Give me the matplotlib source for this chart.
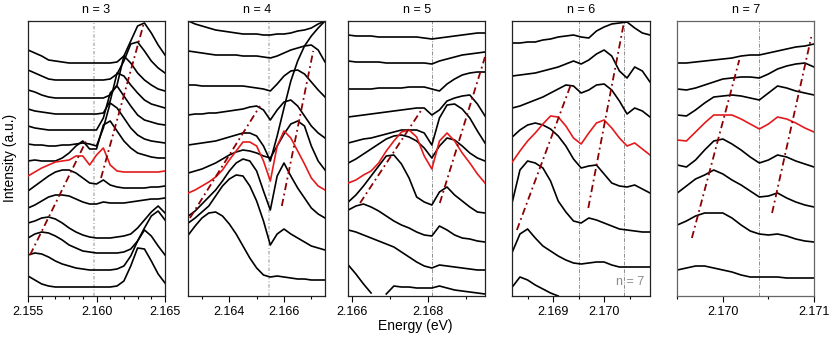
import numpy as np
import matplotlib
matplotlib.use('Agg')
import matplotlib.pyplot as plt
from matplotlib.ticker import MultipleLocator, FormatStrFormatter

plt.rcParams['font.family'] = ['Liberation Sans', 'DejaVu Sans']

nan = np.nan

# ---- n = 3 ----
energy_n3 = np.linspace(2.155, 2.165, 21)
traces_n3 = [
    [246, 243, 240, 236, 235, 234, 233, 233, 233, 233, 233, 233, 233, 234, 240, 255, 270, 273, 263, 251, 241],
    [226, 223, 220, 217, 216, 216, 216, 216, 216, 216, 216, 216, 217, 222, 235, 252, 254, 245, 235, 228, 223],
    [206, 204, 201, 199, 198, 198, 198, 198, 198, 198, 198, 198, 201, 211, 240, 233, 223, 216, 211, 207, 205],
    [187, 185, 184, 183, 182, 182, 182, 182, 182, 182, 182, 183, 195, 223, 220, 211, 203, 196, 192, 190, 188],
    [170, 168, 167, 166, 166, 166, 166, 166, 166, 166, 166, 178, 203, 210, 200, 190, 181, 176, 174, 172, 171],
    [152, 151, 151, 150, 150, 151, 151, 152, 153, 152, 150, 168, 193, 188, 178, 168, 161, 157, 155, 154, 153],
    [135, 136, 135, 135, 135, 138, 143, 150, 155, 147, 147, 171, 175, 165, 155, 148, 143, 141, 139, 138, 138],
    [120, 124, 128, 131, 134, 135, 136, 140, 140, 131, 141, 148, 131, 125, 124, 124, 124, 124, 124, 124, 125],
    [105, 110, 115, 120, 124, 126, 126, 123, 118, 113, 112, 116, 111, 109, 108, 108, 108, 108, 109, 109, 110],
    [88, 91, 95, 99, 101, 101, 100, 97, 94, 92, 92, 94, 93, 93, 93, 94, 95, 96, 97, 97, 98],
    [73, 75, 78, 79, 77, 73, 68, 64, 61, 59, 58, 58, 58, 59, 60, 62, 68, 76, 84, 90, 83],
    [58, 62, 64, 63, 60, 56, 51, 48, 45, 44, 43, 43, 43, 43, 44, 47, 55, 68, 80, 85, 76],
    [41, 43, 42, 39, 35, 32, 30, 28, 27, 26, 26, 26, 26, 27, 30, 40, 55, 66, 60, 50, 41],
    [20, 16, 12, 10, 9, 9, 9, 9, 9, 9, 9, 9, 9, 10, 15, 30, 48, 47, 35, 22, 13],
]
red_n3 = 7
vline_n3 = [2.1598]
guides_n3 = [([2.15515, 2.15928], [41, 156]), ([2.16033, 2.16342], [118, 271])]

# ---- n = 4 ----
energy_n4 = np.linspace(2.1625, 2.1675, 21)
traces_n4 = [
    [275, 272, 270, 268, 266, 265, 264, 263, 262, 262, 262, 261, 261, 262, 262, 263, 265, 266, 268, 272, 275],
    [245, 244, 243, 242, 241, 241, 241, 241, 240, 240, 240, 239, 238, 240, 243, 246, 248, 250, 251, 246, 234],
    [211, 211, 210, 210, 210, 210, 210, 210, 210, 209, 208, 207, 205, 212, 220, 225, 226, 222, 214, 206, 199],
    [181, 182, 182, 183, 183, 184, 185, 186, 187, 189, 190, 186, 176, 186, 194, 196, 190, 180, 170, 163, 158],
    [151, 152, 153, 154, 155, 157, 159, 161, 163, 163, 160, 150, 135, 160, 188, 215, 235, 250, 260, 268, 275],
    [123, 125, 127, 130, 133, 137, 141, 144, 146, 145, 143, 140, 138, 150, 162, 172, 175, 170, 150, 135, 126],
    [103, 106, 110, 114, 119, 126, 136, 145, 154, 154, 150, 135, 115, 150, 165, 158, 145, 132, 118, 110, 106],
    [80, 85, 92, 99, 106, 115, 125, 133, 137, 135, 125, 105, 86, 120, 133, 120, 108, 98, 88, 82, 78],
    [73, 78, 84, 90, 100, 110, 117, 121, 120, 110, 95, 75, 51, 62, 67, 62, 58, 54, 50, 48, 46],
    [61, 70, 78, 83, 84, 80, 72, 62, 50, 38, 28, 21, 19, 20, 19, 18, 17, 17, 16, 16, 16],
]
red_n4 = 6
vline_n4 = [2.16546]
guides_n4 = [([2.16256, 2.16512], [78, 190]), ([2.16592, 2.16707], [90, 245])]

# ---- n = 5 ----
energy_n5 = np.linspace(2.1659, 2.1695, 19)
traces_n5 = [
    [261, 260, 260, 260, 259, 259, 259, 259, 259, 259, 258, 257, 258, 259, 260, 261, 262, 263, 263],
    [235, 234, 234, 234, 234, 233, 233, 233, 233, 233, 233, 232, 235, 237, 239, 241, 242, 243, 244],
    [207, 207, 207, 207, 208, 208, 208, 208, 209, 209, 209, 207, 205, 212, 217, 221, 223, 224, 224],
    [179, 180, 181, 182, 183, 184, 185, 186, 187, 188, 188, 181, 186, 195, 198, 200, 201, 192, 180],
    [153, 155, 157, 158, 160, 162, 164, 166, 166, 166, 163, 151, 178, 191, 192, 187, 178, 165, 153],
    [133, 137, 142, 147, 152, 157, 160, 161, 159, 155, 148, 138, 150, 158, 156, 150, 143, 138, 135],
    [113, 116, 121, 125, 133, 145, 155, 164, 166, 159, 140, 127, 155, 163, 155, 143, 133, 122, 113],
    [94, 101, 110, 120, 130, 140, 141, 132, 118, 99, 94, 91, 104, 109, 101, 95, 89, 84, 83],
    [86, 90, 92, 89, 85, 80, 75, 71, 68, 64, 61, 60, 70, 66, 61, 58, 57, 55, 54],
    [66, 64, 61, 58, 55, 52, 49, 44, 39, 34, 30, 28, 31, 30, 29, 28, 27, 26, 26],
    [31, 22, 12, 3, nan, nan, nan, nan, nan, nan, nan, nan, nan, nan, nan, nan, nan, nan, nan],
    [nan, nan, nan, nan, nan, 2, 10, 9, 9, 8, 8, 8, 10, 8, 6, 5, 4, 3, 2],
]
red_n5 = 6
vline_n5 = [2.1681]
guides_n5 = [([2.16621, 2.16786], [93, 188]), ([2.16831, 2.16950], [93, 239])]

# ---- n = 6 ----
energy_n6 = np.linspace(2.1682, 2.1709, 19)
traces_n6 = [
    [253, 253, 254, 254, 256, 257, 259, 260, 261, 259, 258, 265, 269, 272, 273, 274, 268, 263, 261],
    [220, 221, 222, 223, 225, 227, 229, 232, 235, 232, 236, 242, 246, 240, 225, 218, 229, 225, 214],
    [188, 190, 193, 196, 199, 203, 207, 211, 210, 203, 206, 211, 212, 206, 195, 182, 188, 185, 179],
    [159, 166, 171, 173, 171, 167, 160, 150, 137, 128, 130, 131, 122, 113, 110, 109, 111, 107, 103],
    [134, 145, 155, 163, 172, 180, 179, 170, 158, 152, 163, 173, 176, 168, 158, 150, 153, 147, 141],
    [94, 126, 135, 133, 128, 115, 95, 84, 75, 73, 78, 76, 73, 70, 67, 66, 65, 64, 64],
    [44, 62, 67, 58, 50, 45, 40, 36, 33, 32, 33, 34, 34, 31, 29, 29, 29, 29, 29],
    [9, 19, 16, 11, 7, 3, 0, nan, nan, nan, nan, nan, nan, nan, nan, nan, nan, nan, nan],
]
red_n6 = 4
vline_n6 = [2.1695, 2.1704]
guides_n6 = [([2.16829, 2.16936], [66, 213]), ([2.16969, 2.17038], [88, 271])]

# ---- n = 7 ----
energy_n7 = np.linspace(2.1695, 2.1710, 16)
traces_n7 = [
    [233, 233, 234, 235, 236, 237, 238, 240, 241, 241, 243, 245, 247, 249, 250, 252],
    [207, 206, 208, 211, 214, 217, 218, 219, 219, 218, 222, 227, 230, 232, 233, 229],
    [181, 180, 186, 193, 199, 200, 201, 200, 198, 196, 203, 210, 208, 205, 203, 201],
    [156, 155, 164, 173, 181, 181, 181, 177, 172, 167, 172, 179, 177, 173, 168, 164],
    [131, 129, 136, 146, 155, 157, 152, 146, 139, 133, 136, 141, 139, 135, 132, 129],
    [103, 110, 117, 121, 126, 122, 116, 111, 105, 99, 100, 103, 98, 94, 91, 89],
    [71, 75, 80, 83, 83, 83, 78, 71, 65, 62, 61, 62, 60, 57, 55, 54],
    [26, 28, 30, 30, 28, 26, 24, 21, 19, 19, 19, 19, 18, 18, 18, 18],
]
red_n7 = 3
vline_n7 = [2.1704]
guides_n7 = [([2.16966, 2.17018], [58, 236]), ([2.17054, 2.17097], [83, 259])]

# light, wide dotted markers in the first two panels, thin dash-dot in the others
vstyle_light = dict(color='#bdbdbd', lw=1.2, ls=(0, (2, 1.2, 0.6, 1.2)))
vstyle_thin = dict(color='#8f8f8f', lw=0.7, ls=(0, (4, 1.5, 1, 1.5)))

panels = [
    ('n = 3', energy_n3, traces_n3, red_n3, vline_n3, guides_n3, (2.155, 2.165), 0.005, 0.001, 28.0, 137.0, vstyle_light),
    ('n = 4', energy_n4, traces_n4, red_n4, vline_n4, guides_n4, (2.1625, 2.1675), 0.002, 0.001, 188.3, 136.7, vstyle_light),
    ('n = 5', energy_n5, traces_n5, red_n5, vline_n5, guides_n5, (2.1659, 2.1695), 0.002, 0.001, 348.3, 136.7, vstyle_thin),
    ('n = 6', energy_n6, traces_n6, red_n6, vline_n6, guides_n6, (2.1682, 2.1709), 0.001, 0.0005, 512.3, 137.7, vstyle_thin),
    ('n = 7', energy_n7, traces_n7, red_n7, vline_n7, guides_n7, (2.1695, 2.1710), 0.001, 0.0005, 677.3, 136.7, vstyle_thin),
]

W, H = 830, 340
fig = plt.figure(figsize=(W / 100, H / 100), dpi=100)

axes = []
for title, en, traces, red_i, vlines, guides, xlim, major, minor, left, width, vstyle in panels:
    ax = fig.add_axes([left / W, 44 / H, width / W, 275 / H])
    for v in vlines:
        ax.axvline(v, zorder=1, **vstyle)
    for i, tr in enumerate(traces):
        c = '#e41a1c' if i == red_i else 'black'
        ax.plot(en, tr, color=c, lw=1.2, zorder=3 if i == red_i else 2)
    for gx, gy in guides:
        ax.plot(gx, gy, color='#8b0000', lw=1.3, ls=(0, (4, 2, 1, 2)), zorder=4)
    ax.set_xlim(*xlim)
    ax.set_ylim(0, 275)
    ax.set_yticks([])
    ax.xaxis.set_major_locator(MultipleLocator(major))
    ax.xaxis.set_minor_locator(MultipleLocator(minor))
    ax.xaxis.set_major_formatter(FormatStrFormatter('%.3f'))
    ax.tick_params(axis='x', which='major', direction='out', length=4, width=0.8, labelsize=9, pad=3)
    ax.tick_params(axis='x', which='minor', direction='out', length=2.5, width=0.8)
    ax.set_title(title, fontsize=9, pad=6)
    for s in ax.spines.values():
        s.set_linewidth(0.9)
        s.set_color('#222222')
    axes.append(ax)

for s in axes[4].spines.values():
    s.set_color('#666666')

axes[3].text(0.96, 0.03, 'n = 7', transform=axes[3].transAxes, ha='right', va='bottom',
             fontsize=9, color='#8c8c8c')

fig.text(415 / W, 1 - 326 / H, 'Energy (eV)', ha='center', va='center', fontsize=10)
fig.text(10 / W, 1 - 158 / H, 'Intensity (a.u.)', ha='center', va='center', rotation=90, fontsize=10)

fig.savefig('out.png', dpi=100)
